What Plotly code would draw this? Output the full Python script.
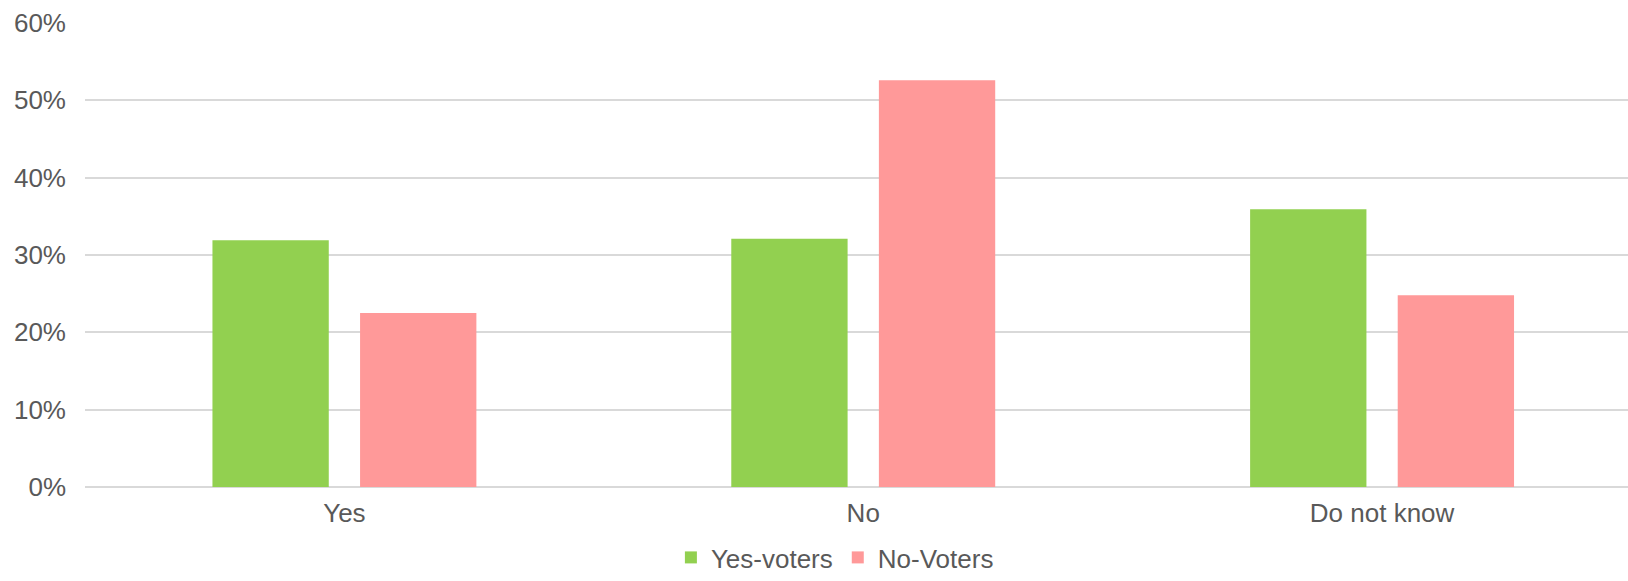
import plotly.graph_objects as go

categories = ["Yes", "No", "Do not know"]
yes_voters = [31.9, 32.1, 35.9]
no_voters = [22.5, 52.6, 24.8]
tick_vals = [0, 10, 20, 30, 40, 50, 60]
tick_text = ["0%", "10%", "20%", "30%", "40%", "50%", "60%"]

font_family = "Liberation Sans, Arial, sans-serif"
text_color = "#595959"
font_size = 26

fig = go.Figure()
fig.add_trace(go.Bar(name="Yes-voters", x=categories, y=yes_voters,
                     marker=dict(color="#92D050", line=dict(width=0))))
fig.add_trace(go.Bar(name="No-Voters", x=categories, y=no_voters,
                     marker=dict(color="#FF9999", line=dict(width=0))))

fig.update_layout(
    width=1628, height=581,
    margin=dict(l=85, r=0, t=23, b=94),
    paper_bgcolor="white", plot_bgcolor="white",
    barmode="group", bargap=0.431, bargroupgap=0.212,
    font=dict(family=font_family, size=font_size, color=text_color),
    showlegend=True,
    legend=dict(orientation="h", xref="paper", x=0.486, xanchor="center",
                yref="container", y=-0.012, yanchor="bottom",
                font=dict(size=font_size, color=text_color),
                traceorder="normal", itemwidth=30),
    xaxis=dict(range=[-0.5, 2.474], showgrid=False, showline=False, zeroline=False,
               ticks="", ticklabelstandoff=8,
               tickfont=dict(size=font_size, color=text_color)),
    yaxis=dict(range=[0, 60], tickvals=tick_vals, ticktext=tick_text,
               showgrid=True, gridcolor="#d9d9d9", gridwidth=1.5,
               zeroline=True, zerolinecolor="#d9d9d9", zerolinewidth=1.5,
               showline=False, ticks="", ticklabelstandoff=18,
               tickfont=dict(size=font_size, color=text_color)),
)

fig.write_html("out.html")
